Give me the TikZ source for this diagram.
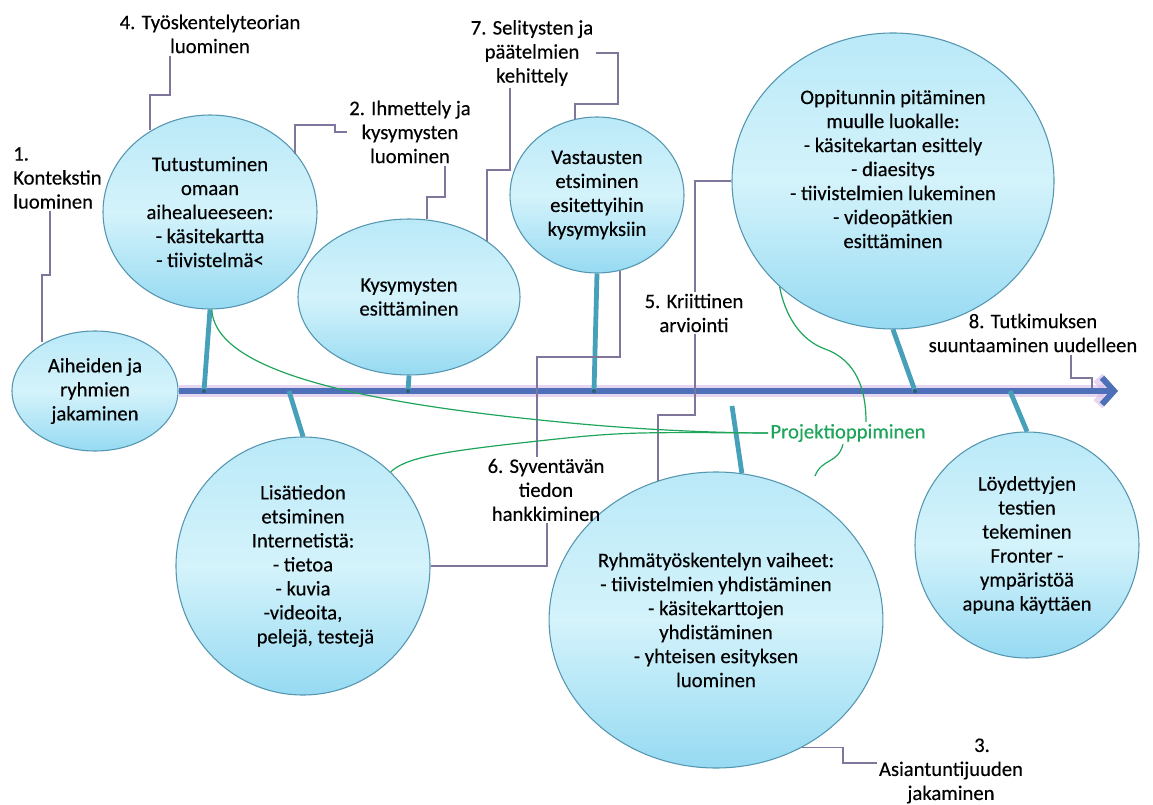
\documentclass[tikz,border=0pt]{standalone}
\usepackage{fontspec}
\setmainfont{Carlito}[FakeBold=0.3]
\usetikzlibrary{shapes.geometric,arrows.meta}

\definecolor{bubedge}{RGB}{84,150,176}
\definecolor{bubtop}{RGB}{186,233,248}
\definecolor{bubmid}{RGB}{212,243,251}
\definecolor{bubbot}{RGB}{150,218,242}
\definecolor{stemcol}{RGB}{70,160,185}
\definecolor{axisblue}{RGB}{78,112,184}
\definecolor{glowpink}{RGB}{214,186,230}
\definecolor{callgray}{RGB}{128,118,155}
\definecolor{projgreen}{RGB}{30,165,90}
\definecolor{dotcol}{RGB}{45,95,125}

\newcommand\txtfont{\fontsize{15.5}{18}\selectfont}

\tikzset{
  bub/.style 2 args={ellipse, draw=bubedge, line width=0.8pt,
    top color=bubtop, bottom color=bubbot, middle color=bubmid,
    minimum width=#1*1.5pt, minimum height=#2*1.5pt, inner sep=0pt,
    align=center, font=\txtfont, text=black},
  txt/.style={align=center, inner sep=1.5pt, font=\txtfont, text=black},
  lbl/.style={txt},
  callout/.style={draw=callgray, line width=1pt},
  stemline/.style={draw=stemcol, line width=3.6pt},
  projline/.style={draw=projgreen, line width=0.9pt},
  glow/.style={draw=glowpink, line width=9pt, opacity=0.6,
    -{Straight Barb[length=9pt,width=20pt]}},
  axisline/.style={draw=axisblue, line width=4.5pt,
    -{Straight Barb[length=9pt,width=20pt]}}
}

\begin{document}
\begin{tikzpicture}[x=0.75pt,y=-0.75pt]
\useasboundingbox (0,0) rectangle (1153,805);

% bubbles
\node[bub={83}{60}] (aih) at (95,391) {Aiheiden ja\\ryhmien\\jakaminen};
\node[bub={107}{97}] (tut) at (210,212) {Tutustuminen\\omaan\\aihealueeseen:\\- käsitekartta\\- tiivistelmä<};
\node[bub={111}{78}] (kys) at (409,297) {Kysymysten\\esittäminen};
\node[bub={87}{78}] (vas) at (597,195) {Vastausten\\etsiminen\\esitettyihin\\kysymyksiin};
\node[bub={161}{148}] (opp) at (893,181) {};
\node[txt] (oppt) at (893,169) {Oppitunnin pitäminen\\muulle luokalle:\\- käsitekartan esittely\\- diaesitys\\- tiivistelmien lukeminen\\- videopätkien\\esittäminen};
\node[bub={127}{129}] (lis) at (303,566) {Lisätiedon\\etsiminen\\Internetistä:\\- tietoa\\- kuvia\\-videoita,\\\hspace*{1.2em}pelejä, testejä};
\node[bub={162}{148}] (ryh) at (716,620) {Ryhmätyöskentelyn vaiheet:\\- tiivistelmien yhdistäminen\\- käsitekarttojen\\yhdistäminen\\- yhteisen esityksen\\luominen};
\node[bub={112}{113}] (loy) at (1027,545) {Löydettyjen\\testien\\tekeminen\\Fronter -\\ympäristöä\\apuna käyttäen};

% labels
\node[lbl, align=left, anchor=west] (l1) at (11,178) {1.\\Kontekstin\\luominen};
\node[lbl] (l4) at (210,34) {4. Työskentelyteorian\\luominen};
\node[lbl] (l2) at (410,132) {2. Ihmettely ja\\kysymysten\\luominen};
\node[lbl] (l7) at (532,53) {7. Selitysten ja\\päätelmien\\kehittely};
\node[lbl] (l5) at (694,313) {5. Kriittinen\\arviointi};
\node[lbl] (l6) at (546,490) {6. Syventävän\\tiedon\\hankkiminen};
\node[lbl] (l8) at (1033,333) {8. Tutkimuksen\\suuntaaminen uudelleen};
\node[lbl] (l3) at (951,771) {\hspace*{3em}3.\\Asiantuntijuuden\\jakaminen};
\node[lbl, text=projgreen] (proj) at (848,433) {Projektioppiminen};

% points on the time line
\coordinate (tip) at (1118,391);
\coordinate (j1) at (204,391);
\coordinate (j2) at (289,391);
\coordinate (j3) at (408,391);
\coordinate (j4) at (594,391);
\coordinate (j5) at (915,391);
\coordinate (j6) at (1010,391);
\coordinate (r0) at (732,406);
\coordinate (c8) at (1092,388);
\coordinate (gq) at (815,476);

% main arrow
\draw[glow] (aih.east) -- (tip);
\draw[axisline] (aih.east) -- (tip);

% stems
\draw[stemline] (tut.south) -- (j1);
\draw[stemline] (lis.north) -- (j2);
\draw[stemline] (kys.south) -- (j3);
\draw[stemline] (vas.south) -- (j4);
\draw[stemline] (opp.south) -- (j5);
\draw[stemline] (loy.north) -- (j6);
\draw[stemline] (ryh.80) -- (r0);
\foreach \j in {j1,j3,j4,j5}
  \fill[dotcol] (\j) circle (1.6pt);

% callouts
\draw[callout] (l1.south -| 50,0) -- (50,275) -- (42,275) -- (aih.135 -| 42,0);
\draw[callout] (l4.south -| 170,0) -- (170,95) -- (150,95) -- (tut.125 -| 150,0);
\draw[callout] (l2.west) -| (335,125) -- (295,125) -- (tut.34 -| 295,0);
\draw[callout] (l2.south -| 445,0) -- (445,197) -- (427,197) -- (kys.77 -| 427,0);
\draw[callout] (l7.east) -| (618,104) -- (575,104) -- (vas.106 -| 575,0);
\draw[callout] (l7.south -| 510,0) -- (510,170) -- (487,170) -- (kys.36 -| 487,0);
\draw[callout] (l5.north -| 695,0) |- (opp.west);
\draw[callout] (l5.south -| 695,0) -- (695,415) -- (658,415) -- (ryh.113 -| 658,0);
\draw[callout] (l6.north -| 537,0) -- (537,357) -- (620,357) -- (vas.286 -| 620,0);
\draw[callout] (l6.south -| 547,0) |- (lis.east);
\draw[callout] (l8.south -| 1071,0) -- (1071,378) -- (1092,378) -- (c8);
\draw[callout] (ryh.304) -| (843,763) -- (l3.west |- 0,763);

% projektioppiminen
\draw[projline] (tut.271) .. controls (215,365) and (330,400) .. (560,422)
  .. controls (640,430) and (720,433) .. (proj.west);
\draw[projline] (lis.47) .. controls (405,458) and (440,452) .. (520,443)
  .. controls (620,432) .. (proj.west);
\draw[projline] (proj.north -| 866,0) .. controls (866,380) and (850,358) .. (825,349)
  .. controls (800,340) and (785,315) .. (opp.223);
\draw[projline] (proj.south -| 843,0) .. controls (838,464) and (822,458) .. (gq);
\end{tikzpicture}
\end{document}
